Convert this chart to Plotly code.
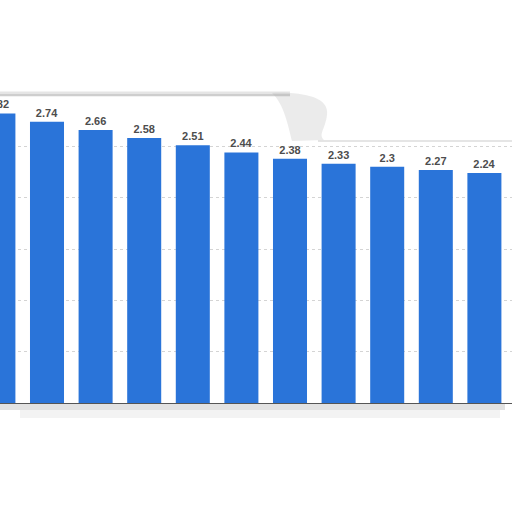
import plotly.graph_objects as go

categories = ["2007", "2008", "2009", "2010", "2011", "2012", "2013", "2014", "2015", "2016", "2017"]
values = [2.82, 2.74, 2.66, 2.58, 2.51, 2.44, 2.38, 2.33, 2.3, 2.27, 2.24]
value_labels = ["2.82", "2.74", "2.66", "2.58", "2.51", "2.44", "2.38", "2.33", "2.3", "2.27", "2.24"]

W, H = 512, 512
TOP, BASE = 95, 403


def py(p):
    return (BASE - p) / (BASE - TOP)


def px(p):
    return p / W


fig = go.Figure()
fig.add_trace(go.Bar(
    x=categories,
    y=values,
    text=value_labels,
    textposition="outside",
    textfont=dict(family="Liberation Sans, Arial, sans-serif", size=11, color="#4d4d4d", weight="bold"),
    marker=dict(color="#2a74d9", line=dict(width=0)),
    cliponaxis=True,
    hoverinfo="skip",
))

shapes = []
# torn-paper shadow along the top edge
shapes.append(dict(type="line", xref="paper", yref="paper",
                   x0=px(0), x1=px(290), y0=py(94), y1=py(94),
                   line=dict(color="rgba(170,170,170,0.3)", width=5), layer="above"))
shapes.append(dict(type="line", xref="paper", yref="paper",
                   x0=px(0), x1=px(290), y0=py(95), y1=py(95),
                   line=dict(color="rgba(150,150,150,0.4)", width=1.5), layer="above"))
blob = "M {:.4f},{:.4f} C {:.4f},{:.4f} {:.4f},{:.4f} {:.4f},{:.4f} C {:.4f},{:.4f} {:.4f},{:.4f} {:.4f},{:.4f} L {:.4f},{:.4f} C {:.4f},{:.4f} {:.4f},{:.4f} {:.4f},{:.4f} Z".format(
    px(272), py(93),
    px(300), py(92), px(330), py(96), px(327), py(115),
    px(325), py(130), px(318), py(134), px(324), py(140),
    px(292), py(141),
    px(288), py(125), px(284), py(104), px(272), py(93))
shapes.append(dict(type="path", xref="paper", yref="paper", path=blob,
                   fillcolor="rgba(175,175,175,0.25)", line=dict(width=0), layer="above"))
shapes.append(dict(type="line", xref="paper", yref="paper",
                   x0=px(318), x1=px(512), y0=py(141), y1=py(141),
                   line=dict(color="rgba(190,190,190,0.4)", width=2), layer="above"))
# shadow under the baseline
shapes.append(dict(type="rect", xref="paper", yref="paper",
                   x0=px(0), x1=px(505), y0=py(404), y1=py(410),
                   fillcolor="rgba(160,160,160,0.3)", line=dict(width=0), layer="above"))
shapes.append(dict(type="rect", xref="paper", yref="paper",
                   x0=px(20), x1=px(500), y0=py(410), y1=py(418),
                   fillcolor="rgba(200,200,200,0.22)", line=dict(width=0), layer="above"))

fig.update_layout(
    width=W, height=H,
    margin=dict(l=0, r=0, t=TOP, b=H - BASE, pad=0),
    paper_bgcolor="white",
    plot_bgcolor="rgba(0,0,0,0)",
    bargap=0.3,
    showlegend=False,
    shapes=shapes,
    xaxis=dict(type="category", range=[0.033, 10.568], showticklabels=False,
               showgrid=False, zeroline=False, ticks="",
               showline=True, linecolor="#555555", linewidth=1),
    yaxis=dict(range=[0, 3], dtick=0.5, showticklabels=False,
               showgrid=True, gridcolor="#d4d4d4", griddash="dot", gridwidth=1,
               zeroline=False, ticks=""),
)

fig.write_html("out.html", config={"displayModeBar": False},
               post_script="document.body.style.margin='0';document.body.style.overflow='hidden';")
